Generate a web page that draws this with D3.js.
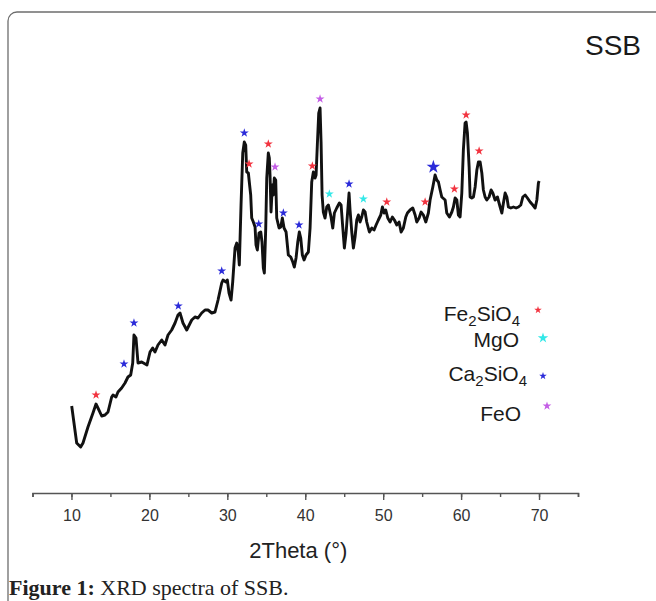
<!DOCTYPE html>
<html>
<head>
<meta charset="utf-8">
<script src="https://cdn.jsdelivr.net/npm/d3@7"></script>
<style>
  html, body { margin: 0; padding: 0; background: #fff; }
  svg { display: block; }
</style>
</head>
<body>
<div id="chart"></div>
<script>
// XRD pattern of SSB (intensity in arbitrary units)
const twoTheta = [
  10.03, 10.67, 11.18, 11.48, 12.12, 12.76, 13.15, 13.40, 13.88, 14.30, 14.69, 15.16, 15.33, 15.71, 15.97,
  16.44, 16.87, 17.25, 17.60, 17.86, 18.02, 18.28, 18.54, 19.01, 19.69, 20.08, 20.42, 20.72, 21.10, 21.58,
  22.00, 22.39, 22.86, 23.29, 23.67, 23.93, 24.31, 24.79, 25.43, 25.85, 26.24, 26.71, 27.14, 27.52, 28.00,
  28.42, 28.81, 29.28, 29.45, 29.83, 30.00, 30.22, 30.48, 30.69, 30.99, 31.21, 31.41, 31.54, 31.76, 31.98,
  32.18, 32.36, 32.49, 32.70, 32.82, 33.00, 33.13, 33.34, 33.56, 33.68, 33.85, 34.07, 34.29, 34.45, 34.62,
  34.75, 34.93, 35.06, 35.26, 35.39, 35.48, 35.61, 35.78, 35.90, 36.03, 36.21, 36.34, 36.64, 36.86, 37.06,
  37.28, 37.54, 37.83, 38.14, 38.40, 38.60, 38.82, 39.04, 39.24, 39.42, 39.63, 39.85, 40.10, 40.40, 40.62,
  40.83, 41.04, 41.26, 41.39, 41.55, 41.73, 41.90, 42.03, 42.16, 42.32, 42.54, 42.76, 42.97, 43.06, 43.31,
  43.53, 43.74, 44.04, 44.38, 44.60, 44.81, 45.02, 45.24, 45.46, 45.62, 45.75, 45.97, 46.18, 46.39, 46.61,
  46.82, 47.03, 47.25, 47.46, 47.68, 47.89, 48.23, 48.54, 48.83, 49.09, 49.38, 49.69, 49.90, 50.12, 50.33,
  50.59, 50.89, 51.18, 51.44, 51.75, 52.04, 52.30, 52.59, 52.90, 53.11, 53.45, 53.80, 54.10, 54.31, 54.61,
  54.87, 55.16, 55.47, 55.80, 56.02, 56.37, 56.66, 56.88, 57.09, 57.31, 57.52, 57.95, 58.16, 58.50, 58.81,
  59.01, 59.23, 59.45, 59.65, 59.87, 60.09, 60.29, 60.51, 60.64, 60.81, 61.03, 61.16, 61.37, 61.58, 61.80,
  62.02, 62.22, 62.44, 62.66, 62.86, 63.08, 63.30, 63.59, 63.85, 64.07, 64.36, 64.66, 65.01, 65.23, 65.43,
  65.65, 65.87, 66.07, 66.38, 66.71, 67.06, 67.36, 67.66, 67.92, 68.22, 68.51, 68.86, 69.20, 69.50, 69.72,
  69.92, 70.01
];
const intensity = [
  87, 50, 46, 50, 66, 80, 89, 85, 77, 78, 81, 96, 98, 96, 101,
  105, 110, 116, 118, 130, 158, 155, 130, 131, 128, 141, 145, 141, 148, 153,
  148, 158, 163, 170, 178, 180, 170, 163, 173, 176, 175, 180, 183, 183, 180,
  181, 193, 210, 213, 211, 213, 200, 193, 211, 245, 250, 241, 228, 288, 340,
  351, 348, 321, 320, 311, 298, 275, 271, 266, 248, 243, 260, 261, 251, 225,
  220, 265, 315, 340, 335, 318, 281, 308, 298, 315, 313, 275, 265, 266, 275,
  265, 261, 238, 236, 231, 226, 235, 251, 261, 255, 238, 233, 238, 241, 265,
  311, 321, 315, 318, 348, 380, 385, 351, 298, 281, 275, 286, 288, 285, 276,
  265, 280, 285, 290, 288, 266, 245, 260, 283, 300, 283, 261, 245, 256, 273,
  278, 271, 276, 283, 281, 271, 261, 265, 263, 268, 273, 278, 286, 280, 283,
  275, 271, 276, 273, 268, 271, 261, 265, 276, 280, 283, 285, 278, 271, 275,
  281, 278, 271, 280, 293, 306, 318, 313, 311, 303, 296, 293, 280, 276, 281,
  286, 295, 293, 278, 276, 300, 343, 370, 371, 360, 326, 296, 295, 296, 306,
  323, 331, 331, 320, 303, 296, 293, 296, 303, 300, 293, 296, 286, 280, 290,
  300, 296, 286, 285, 286, 285, 286, 288, 296, 298, 295, 291, 288, 285, 293,
  310, 312
];

// phase markers (2theta, marker height)
const fe2sio4Theta = [13.15, 32.79, 35.26, 40.91, 50.46, 55.38, 59.14, 60.64, 62.31];
const fe2sio4Int   = [98, 329, 349, 327, 291, 291, 304, 378, 342];
const mgoTheta = [43.09, 47.46];
const mgoInt   = [299, 294];
const ca2sio4Theta = [16.74, 18.02, 23.71, 29.28, 32.18, 34.03, 37.19, 39.20, 45.62, 56.44];
const ca2sio4Int   = [129, 170, 187, 222, 360, 269, 280, 268, 309, 326];
const ca2sio4Size  = [1, 1, 1, 1, 1, 1, 1, 1, 1, 2.3];
const feoTheta = [36.12, 41.90];
const feoInt   = [326, 394];

const xTicks = [10, 20, 30, 40, 50, 60, 70];
const legendNames = [["Fe", "2", "SiO", "4"], ["MgO"], ["Ca", "2", "SiO", "4"], ["FeO"]];
const phaseColors = ["#f2333f", "#33e8e8", "#2b2bd9", "#c45ee6"];

const W = 656, H = 601;
const svg = d3.select("#chart").append("svg")
  .attr("width", W)
  .attr("height", H);

// rounded frame around the figure
svg.append("rect")
  .attr("x", 8).attr("y", 12)
  .attr("width", 720).attr("height", 700)
  .attr("rx", 9)
  .attr("fill", "none")
  .attr("stroke", "#6d6d6d")
  .attr("stroke-width", 1.3);

const x = d3.scaleLinear().domain([5, 75]).range([32.5, 578]);
const y = d3.scaleLinear().domain([0, 400]).range([493, 93]);

// x axis: minor ticks every 5, labelled majors every 10
svg.append("g")
  .attr("transform", "translate(0,493)")
  .call(d3.axisBottom(x).tickValues(d3.range(5, 76, 5)).tickSize(4).tickFormat(""))
  .call(g => g.select(".domain").attr("stroke", "#555").attr("stroke-width", 1.6))
  .call(g => g.selectAll(".tick line").attr("stroke", "#555").attr("stroke-width", 1.4));

svg.append("g")
  .attr("transform", "translate(0,493)")
  .call(d3.axisBottom(x).tickValues(xTicks).tickSize(7).tickPadding(10))
  .call(g => g.select(".domain").remove())
  .call(g => g.selectAll(".tick line").attr("stroke", "#555").attr("stroke-width", 1.4))
  .call(g => g.selectAll(".tick text")
    .attr("fill", "#333")
    .style("font-family", "'Liberation Sans', Arial, sans-serif")
    .style("font-size", "16px"));

svg.append("text")
  .attr("x", x(40) - 7)
  .attr("y", 558)
  .attr("text-anchor", "middle")
  .style("font-family", "'Liberation Sans', Arial, sans-serif")
  .style("font-size", "22px")
  .attr("fill", "#222")
  .text("2Theta (°)");

// pattern
const line = d3.line()
  .x((d, i) => x(twoTheta[i]))
  .y(d => y(d));

svg.append("path")
  .datum(intensity)
  .attr("d", line)
  .attr("fill", "none")
  .attr("stroke", "#111")
  .attr("stroke-width", 2.9)
  .attr("stroke-linejoin", "round");

// star markers
const star = d3.symbol().type(d3.symbolStar);
const phases = [
  { th: fe2sio4Theta, it: fe2sio4Int, color: phaseColors[0] },
  { th: mgoTheta, it: mgoInt, color: phaseColors[1] },
  { th: ca2sio4Theta, it: ca2sio4Int, color: phaseColors[2], sz: ca2sio4Size },
  { th: feoTheta, it: feoInt, color: phaseColors[3] }
];
phases.forEach(p => {
  svg.append("g").selectAll("path")
    .data(p.th)
    .enter()
    .append("path")
    .attr("transform", (d, i) => `translate(${x(d)},${y(p.it[i])})`)
    .attr("d", (d, i) => star.size(25 * (p.sz ? p.sz[i] : 1))())
    .attr("fill", p.color);
});

// legend
const legendY = [321, 347, 381, 421];
const legendStarY = [310, 338, 376, 406];
const legendStarX = [538, 543, 543, 547];
const legendStarSize = [18, 34, 18, 24];
const legendRight = [520, 519, 527, 521];

legendNames.forEach((parts, k) => {
  const t = svg.append("text")
    .attr("x", legendRight[k])
    .attr("y", legendY[k])
    .attr("text-anchor", "end")
    .style("font-family", "'Liberation Sans', Arial, sans-serif")
    .style("font-size", "21px")
    .attr("fill", "#1a1a1a");
  parts.forEach((s, j) => {
    const sub = j % 2 === 1;
    t.append("tspan")
      .attr("dy", sub ? 5 : (j > 0 ? -5 : 0))
      .style("font-size", sub ? "15px" : "21px")
      .text(s);
  });
  svg.append("path")
    .attr("transform", `translate(${legendStarX[k]},${legendStarY[k]})`)
    .attr("d", star.size(legendStarSize[k])())
    .attr("fill", phaseColors[k]);
});

// sample label
svg.append("text")
  .attr("x", 641)
  .attr("y", 55)
  .attr("text-anchor", "end")
  .style("font-family", "'Liberation Sans', Arial, sans-serif")
  .style("font-size", "28px")
  .attr("fill", "#1a1a1a")
  .text("SSB");

// caption
const cap = svg.append("text")
  .attr("x", 9)
  .attr("y", 595)
  .style("font-family", "'Liberation Serif', 'Times New Roman', serif")
  .style("font-size", "22px")
  .attr("fill", "#222");
cap.append("tspan").style("font-weight", "bold").text("Figure 1:");
cap.append("tspan").text(" XRD spectra of SSB.");
</script>
</body>
</html>
